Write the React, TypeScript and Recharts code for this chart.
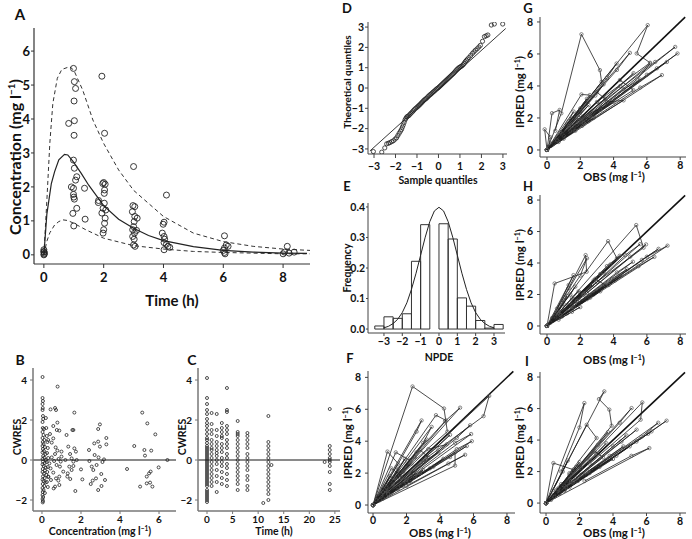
import React from "react"
import { ComposedChart, Scatter, XAxis, YAxis, ReferenceLine, ReferenceArea } from "recharts"

const FONT = "Lato, 'Open Sans', 'DejaVu Sans', sans-serif"

// ---------- A: observed concentration vs time, median and 90% band ----------
const aObs = [
  [0, 0.15], [0, 0.1], [0.02, 0.05], [0, 0], [0.01, 0.02], [0, 0.08],
  [0.83, 3.87], [0.99, 5.49], [1.02, 5.1], [1.06, 4.9], [1.01, 4.53], [1.02, 3.95], [1.01, 3.52],
  [0.99, 2.79], [1.02, 2.55], [1.1, 2.3], [1.06, 2.2], [0.92, 2.0], [0.99, 1.96], [0.99, 1.78],
  [1.0, 1.7], [1.02, 1.64], [1.1, 1.37], [0.97, 1.22], [1.36, 1.96], [1.38, 1.05], [1.0, 0.85],
  [1.94, 5.26], [2.03, 3.58], [2.0, 2.13], [2.05, 2.08], [1.97, 2.1], [2.03, 1.91], [2.02, 1.81],
  [1.83, 1.6], [1.82, 1.54], [2.02, 1.52], [1.98, 1.37], [2.07, 1.32], [1.94, 1.23], [2.05, 1.08],
  [2.03, 0.93], [2.0, 0.74], [1.98, 0.64],
  [3.0, 2.6], [2.98, 1.45], [3.04, 1.42], [2.96, 1.27], [3.04, 1.13], [3.12, 1.08], [3.02, 0.98],
  [3.0, 0.83], [2.97, 0.74], [3.03, 0.64], [3.1, 0.72], [2.97, 0.54], [3.02, 0.46], [3.0, 0.29], [3.05, 0.25],
  [4.1, 1.76], [4.02, 0.96], [3.99, 0.9], [3.96, 0.64], [4.02, 0.54], [4.04, 0.46], [4.02, 0.36],
  [4.1, 0.31], [4.15, 0.25], [4.02, 0.15], [4.21, 0.22],
  [6.04, 0.56], [6.1, 0.29], [6.16, 0.25], [6.04, 0.2], [6.0, 0.13], [6.04, 0.07], [6.06, 0.03],
  [8.14, 0.25], [8.05, 0.08], [8.0, 0.03], [8.2, 0.05], [8.37, 0.08],
]
const medTime = [0, 0.1, 0.25, 0.36, 0.5, 0.69, 0.8, 1, 1.25, 1.5, 2, 2.5, 3, 3.5, 4, 5, 6, 7, 8, 8.8]
const medConc = [0, 1.2, 2.1, 2.45, 2.8, 2.96, 2.94, 2.72, 2.4, 2.05, 1.45, 1.05, 0.78, 0.57, 0.42, 0.24, 0.13, 0.08, 0.05, 0.04]
const hiTime = [0, 0.1, 0.2, 0.3, 0.45, 0.6, 0.86, 1, 1.3, 1.64, 2, 2.5, 3, 4, 5, 6, 7, 8, 8.9]
const hiConc = [0, 1.6, 3.3, 4.46, 5.2, 5.46, 5.54, 5.44, 4.85, 3.97, 3.28, 2.5, 1.9, 1.13, 0.64, 0.39, 0.25, 0.17, 0.13]
const loTime = [0, 0.1, 0.2, 0.36, 0.5, 0.64, 0.8, 1, 1.4, 2, 3, 4, 5, 6, 8, 8.9]
const loConc = [0, 0.4, 0.65, 0.88, 0.98, 1.03, 1.01, 0.93, 0.74, 0.49, 0.27, 0.17, 0.1, 0.07, 0.03, 0.03]

// ---------- B: CWRES vs concentration ----------
const bPoints = [
  [0.03, 4.15], [0.03, 3.1], [0.05, 2.95], [0.03, 2.8], [0.04, 2.6], [0.03, 2.5], [0.05, 2.2], [0.06, 2.05],
  [0.03, 1.9], [0.04, 1.6], [0.1, 1.55], [0.03, 1.4], [0.08, 1.25], [0.03, 1.1], [0.12, 1.0], [0.04, 0.9],
  [0.08, 0.8], [0.03, 0.7], [0.15, 0.65], [0.05, 0.55], [0.1, 0.45], [0.03, 0.38], [0.18, 0.3], [0.06, 0.2],
  [0.12, 0.12], [0.03, 0.05], [0.2, 0.0], [0.05, -0.08], [0.14, -0.15], [0.03, -0.22], [0.09, -0.3],
  [0.2, -0.38], [0.04, -0.45], [0.15, -0.52], [0.03, -0.6], [0.1, -0.68], [0.22, -0.75], [0.05, -0.82],
  [0.14, -0.9], [0.03, -0.98], [0.08, -1.05], [0.18, -1.12], [0.04, -1.2], [0.12, -1.3], [0.03, -1.4],
  [0.08, -1.5], [0.04, -1.6], [0.15, -1.65], [0.03, -1.75], [0.06, -1.85], [0.03, -1.95], [0.05, -2.05], [0.04, -2.12],
  [0.25, 1.2], [0.28, 0.9], [0.3, 0.6], [0.26, 0.35], [0.32, 0.1], [0.24, -0.1], [0.3, -0.35], [0.27, -0.6],
  [0.33, -0.85], [0.25, -1.1], [0.3, -1.35], [0.22, 1.6], [0.2, 2.1],
  [0.8, 3.67], [0.44, 2.53], [0.67, 2.6], [0.72, 2.5], [0.58, 1.7], [0.79, 1.87], [0.89, 1.47], [0.76, 1.5],
  [0.41, 1.3], [0.32, 1.0], [0.5, 0.87], [0.58, 1.08], [0.7, 0.63], [0.79, 0.47], [0.67, 0.3], [0.5, 0.13],
  [0.38, -0.17], [0.44, -0.42], [0.58, -0.63], [0.32, -0.83], [0.46, -1.0], [0.72, -0.92], [0.89, -1.25],
  [0.67, -1.33], [0.6, -1.42], [1.0, 0.42], [1.0, 0.17], [0.96, -0.08], [0.92, -0.33], [1.09, -0.58],
  [0.89, -0.83], [0.84, -1.03], [0.85, 0.05], [0.62, -0.05], [0.75, -0.25],
  [1.66, 2.37], [1.56, 1.5], [1.61, 1.5], [1.26, 1.25], [1.35, 0.67], [1.44, 0.3], [1.66, 0.58], [1.74, 0.42],
  [1.52, 0.08], [1.61, -0.08], [1.4, -0.33], [1.52, -0.5], [1.61, -0.3], [1.32, -0.67], [1.3, -0.83],
  [2.0, -0.47], [1.78, 0.0], [1.71, -1.55], [1.2, 0.0], [1.45, -0.95],
  [2.97, 1.78], [2.88, 1.55], [3.3, 1.1], [3.3, 0.78], [2.68, 0.83], [2.88, 0.92], [2.97, 0.67], [2.41, 0.5],
  [2.7, 0.25], [2.9, 0.13], [3.18, 0.03], [2.43, -0.05], [2.07, -0.97], [2.5, -1.2], [2.6, -1.03], [2.77, -0.92],
  [2.88, -1.5], [3.05, -1.3], [3.23, -1.0], [3.04, -0.7], [2.63, -0.5], [2.55, -0.33], [2.8, -0.25], [3.1, -0.1],
  [4.36, -0.45], [4.73, 0.7], [5.14, 2.37], [5.4, 1.83], [5.81, 1.28], [5.25, 0.5], [5.28, 0.22], [5.6, 0.47],
  [6.43, 0.0], [5.98, -0.37], [5.57, -0.58], [5.49, -0.67], [5.37, -0.83], [5.37, -1.17], [5.54, -1.13],
  [5.66, -1.33], [5.03, -1.33],
]

// ---------- C: CWRES vs time (columns by sampling time) ----------
const cTimes = [0, 0.9, 1.9, 2.9, 3.9, 6, 7.9, 11, 12, 12.6, 23, 24]
const cCwres = [
  [4.1, 3.1, 2.8, 2.5, 2.3, 2.05, 1.85, 1.7, 1.5, 1.3, 1.1, 1.0, 0.85, 0.7, 0.6, 0.5, 0.4, 0.3, 0.2, 0.1, 0.0, -0.1,
    -0.2, -0.3, -0.4, -0.5, -0.6, -0.7, -0.8, -0.9, -1.0, -1.1, -1.2, -1.3, -1.5, -1.6, -1.7, -1.8, -1.9, -2.0, -2.1],
  [2.35, 1.8, 1.5, 1.3, 1.0, 0.8, 0.6, 0.5, 0.3, 0.1, -0.1, -0.3, -0.5, -0.7, -0.9, -1.1, -1.3],
  [2.3, 1.5, 1.2, 0.9, 0.7, 0.5, 0.35, 0.2, 0.0, -0.2, -0.5, -0.8, -1.1, -1.6],
  [1.85, 1.6, 1.4, 1.2, 1.1, 0.8, 0.6, 0.4, 0.1, -0.1, -0.3, -0.6, -0.9, -1.2],
  [3.6, 2.5, 2.4, 1.7, 1.5, 1.3, 1.0, 0.8, 0.6, 0.3, 0.1, -0.2, -0.4, -0.7, -1.0, -1.3],
  [1.95, 1.4, 1.3, 1.2, 1.0, 0.8, 0.6, 0.4, 0.2, 0.0, -0.2, -0.4, -0.6, -0.8, -1.0, -1.2, -1.5],
  [1.35, 1.2, 1.0, 0.8, 0.6, 0.3, 0.1, -0.1, -0.3, -0.5, -0.8, -1.0, -1.3, -1.5],
  [-2.15],
  [2.2, 0.9, 0.7, 0.5, 0.3, 0.1, -0.1, -0.3, -0.5, -0.7, -0.9, -1.1, -1.3, -1.5, -1.7, -2.0],
  [-0.25],
  [-0.1],
  [2.55, 0.7, 0.5, 0.3, 0.1, 0.0, -0.1, -0.3, -0.6, -1.2, -1.5],
]

// ---------- D: QQ plot ----------
const qqPoints = [
  [-3.03, -3.13], [-2.64, -3.16], [-2.5, -2.95], [-2.41, -2.75], [-2.33, -2.72], [-2.26, -2.69], [-2.18, -2.64],
  [-2.1, -2.6], [-2.02, -2.52], [-1.95, -2.45], [-1.89, -2.34], [-1.83, -2.23], [-1.77, -2.13], [-1.72, -2.04],
  [-1.68, -1.93], [-1.64, -1.82], [-1.6, -1.7], [-1.56, -1.58], [-1.52, -1.5], [-1.48, -1.43],
  [-1.44, -1.4], [-1.38, -1.36], [-1.33, -1.3], [-1.28, -1.24], [-1.22, -1.18], [-1.17, -1.12], [-1.12, -1.06],
  [-1.06, -1.0], [-1.0, -0.95], [-0.95, -0.9], [-0.9, -0.85], [-0.85, -0.8], [-0.8, -0.74], [-0.75, -0.69],
  [-0.7, -0.63], [-0.65, -0.58], [-0.6, -0.54], [-0.55, -0.5], [-0.5, -0.44], [-0.45, -0.39], [-0.4, -0.34],
  [-0.35, -0.3], [-0.3, -0.25], [-0.25, -0.2], [-0.2, -0.16], [-0.15, -0.11], [-0.1, -0.06], [-0.05, -0.02],
  [0, 0.02], [0.05, 0.07], [0.1, 0.12], [0.15, 0.17], [0.2, 0.22], [0.25, 0.27], [0.3, 0.32], [0.35, 0.37],
  [0.4, 0.42], [0.45, 0.47], [0.5, 0.52], [0.55, 0.57], [0.6, 0.62], [0.65, 0.67], [0.7, 0.72], [0.75, 0.78],
  [0.8, 0.84], [0.85, 0.9], [0.9, 0.95], [0.95, 1.0], [1.0, 1.03], [1.05, 1.06], [1.1, 1.1], [1.15, 1.15],
  [1.2, 1.22], [1.25, 1.3], [1.3, 1.36], [1.35, 1.42], [1.42, 1.5], [1.5, 1.6], [1.58, 1.7], [1.65, 1.78],
  [1.72, 1.86], [1.8, 1.93], [1.88, 2.02], [1.95, 2.1], [2.05, 2.3], [2.14, 2.53], [2.22, 2.57], [2.3, 2.61],
  [2.46, 3.1], [2.6, 3.15], [2.99, 3.15],
]
const qqLine = [[-3.19, -3.1], [3.13, 2.93]]

// ---------- E: NPDE histogram ----------
const binStart = [-3.5, -3, -2.5, -2, -1.5, -1, -0.5, 0, 0.5, 1, 1.5, 2, 2.5, 3]
const binFreq = [0.01, 0.04, 0.035, 0.05, 0.222, 0.342, 0.42, 0.345, 0.295, 0.102, 0.075, 0.028, 0.003, 0.015]
const curveX = [-3, -2.75, -2.5, -2.25, -2, -1.75, -1.5, -1.25, -1, -0.75, -0.5, -0.25, 0, 0.25, 0.5, 0.75, 1, 1.25, 1.5, 1.75, 2, 2.25, 2.5, 2.75, 3]
const curveY = [0.004, 0.009, 0.018, 0.032, 0.054, 0.086, 0.13, 0.183, 0.242, 0.301, 0.352, 0.387, 0.399, 0.387, 0.352, 0.301, 0.242, 0.183, 0.13, 0.086, 0.054, 0.032, 0.018, 0.009, 0.004]

// ---------- F-I: IPRED vs OBS per subject ----------
const fSubjects = [
  [[0, 0], [2.36, 7.43], [4.24, 6.05], [4.44, 4.6], [1.6, 2.0], [0.3, 0.4]],
  [[0, 0], [5.2, 6.1], [4.3, 5.25], [2.0, 2.6], [0.4, 0.5]],
  [[0, 0], [3.76, 5.63], [4.36, 5.3], [2.5, 3.0], [0.5, 0.6]],
  [[0, 0], [2.9, 5.3], [2.6, 4.6], [1.4, 2.4], [0.3, 0.5]],
  [[0, 0], [0.86, 3.35], [1.5, 2.6], [0.6, 1.0]],
  [[0, 0], [1.36, 3.3], [2.2, 2.8], [0.8, 1.1]],
  [[0, 0], [6.94, 6.84], [6.6, 5.57], [3.0, 2.8], [0.6, 0.5]],
  [[0, 0], [5.8, 5.0], [5.0, 4.2], [2.4, 2.0], [0.5, 0.4]],
  [[0, 0], [5.86, 4.45], [4.9, 3.9], [2.0, 1.6]],
  [[0, 0], [5.9, 4.0], [5.0, 3.5], [2.2, 1.5]],
  [[0, 0], [5.6, 3.7], [4.6, 3.0], [1.8, 1.2]],
  [[0, 0], [5.5, 3.15], [4.5, 2.6], [2.0, 1.2]],
  [[0, 0], [4.9, 2.47], [4.9, 3.3], [2.2, 1.5]],
  [[0, 0], [3.2, 4.1], [2.6, 3.3], [1.2, 1.5]],
  [[0, 0], [2.8, 3.46], [3.3, 3.0], [1.5, 1.4]],
  [[0, 0], [4.6, 4.4], [3.8, 3.6], [1.6, 1.7]],
  [[0, 0], [3.9, 3.3], [3.0, 2.7], [1.3, 1.1]],
  [[0, 0], [4.2, 2.9], [3.4, 2.3], [1.5, 1.0]],
  [[0, 0], [3.6, 2.4], [2.8, 2.0], [1.1, 0.8]],
  [[0, 0], [2.3, 2.6], [1.8, 2.1], [0.8, 0.9]],
  [[0, 0], [1.9, 2.9], [1.4, 2.0], [0.6, 0.8]],
  [[0, 0], [3.0, 2.2], [2.3, 1.6], [1.0, 0.7]],
  [[0, 0], [1.7, 1.7], [1.2, 1.3], [0.5, 0.5]],
  [[0, 0], [2.5, 1.8], [1.8, 1.3], [0.7, 0.5]],
  [[0, 0], [1.0, 1.8], [0.7, 1.2], [0.3, 0.5]],
  [[0, 0], [1.3, 1.0], [0.9, 0.8], [0.4, 0.3]],
  [[0, 0], [4.4, 3.8], [3.3, 3.5], [1.4, 1.6]],
  [[0, 0], [1.1, 2.3], [1.6, 1.9], [0.7, 0.9]],
  [[0, 0], [3.5, 4.9], [3.0, 3.9], [1.3, 1.7]],
  [[0, 0], [2.0, 1.4], [1.5, 1.1], [0.6, 0.4]],
  [[0, 0], [1.5, 2.2], [1.2, 1.7], [0.5, 0.7]],
  [[0, 0], [0.8, 1.1], [0.6, 0.8], [0.2, 0.3]],
  [[0, 0], [2.6, 2.0], [2.0, 1.6], [0.9, 0.7]],
]
const gSubjects = [
  [[0, 0], [-0.14, 1.29], [0.2, 0.8], [0.1, 0.2]],
  [[0, 0], [0.86, 2.29], [2.07, 7.23], [3.18, 4.99], [3.28, 4.26], [1.5, 1.9], [0.3, 0.4]],
  [[0, 0], [6.05, 7.8], [5.39, 6.03], [6.19, 5.45], [3.0, 3.0], [0.6, 0.6]],
  [[0, 0], [4.98, 6.07], [4.2, 5.0], [2.0, 2.4]],
  [[0, 0], [7.7, 6.44], [6.5, 5.5], [3.2, 2.9], [0.6, 0.5]],
  [[0, 0], [7.84, 6.03], [6.6, 5.1], [3.0, 2.4]],
  [[0, 0], [7.2, 5.5], [6.0, 4.7], [2.8, 2.2]],
  [[0, 0], [6.9, 4.68], [5.6, 3.9], [2.5, 1.8]],
  [[0, 0], [4.18, 5.4], [3.6, 4.5], [1.6, 2.0]],
  [[0, 0], [2.07, 3.47], [2.57, 3.43], [1.2, 1.6]],
  [[0, 0], [4.38, 4.37], [5.19, 3.74], [2.4, 1.9]],
  [[0, 0], [0.3, 2.3], [0.76, 2.5], [0.5, 1.2]],
  [[0, 0], [3.0, 3.6], [3.5, 3.2], [1.5, 1.5]],
  [[0, 0], [5.6, 4.4], [4.6, 3.8], [2.0, 1.7]],
  [[0, 0], [3.2, 2.6], [2.6, 2.3], [1.2, 1.0]],
  [[0, 0], [2.5, 2.8], [2.0, 2.2], [0.9, 1.0]],
  [[0, 0], [1.6, 2.4], [1.3, 1.8], [0.6, 0.8]],
  [[0, 0], [4.0, 3.0], [3.2, 2.5], [1.4, 1.1]],
  [[0, 0], [1.8, 1.6], [1.4, 1.3], [0.6, 0.6]],
  [[0, 0], [2.8, 2.0], [2.2, 1.6], [1.0, 0.7]],
  [[0, 0], [1.2, 1.5], [0.9, 1.0], [0.4, 0.4]],
  [[0, 0], [3.6, 3.0], [4.6, 3.1], [2.1, 1.5]],
  [[0, 0], [1.0, 0.8], [0.7, 0.6], [0.3, 0.3]],
  [[0, 0], [2.2, 1.7], [1.7, 1.2], [0.7, 0.5]],
  [[0, 0], [5.2, 4.8], [4.4, 4.0], [1.9, 1.8]],
  [[0, 0], [3.4, 4.1], [2.9, 3.4], [1.3, 1.5]],
  [[0, 0], [1.4, 1.2], [1.0, 0.9], [0.4, 0.4]],
  [[0, 0], [6.2, 5.4], [5.4, 4.4], [2.6, 2.1]],
  [[0, 0], [1.9, 2.0], [1.5, 1.5], [0.6, 0.6]],
  [[0, 0], [2.4, 3.2], [2.0, 2.6], [0.8, 1.1]],
]
const hSubjects = [
  [[0, 0], [0.46, 2.7], [2.38, 3.44], [2.32, 4.5], [1.3, 2.4], [0.3, 0.5]],
  [[0, 0], [5.36, 6.41], [5.8, 4.97], [3.0, 2.8], [0.6, 0.5]],
  [[0, 0], [3.67, 5.39], [4.2, 4.3], [2.0, 2.1]],
  [[0, 0], [7.24, 5.1], [6.0, 4.4], [2.8, 2.0]],
  [[0, 0], [6.45, 4.39], [5.5, 3.8], [2.5, 1.8]],
  [[0, 0], [5.95, 5.18], [5.0, 4.4], [2.4, 2.1]],
  [[0, 0], [4.37, 4.46], [3.6, 3.8], [1.6, 1.7]],
  [[0, 0], [1.59, 3.23], [1.3, 2.6], [0.6, 1.1]],
  [[0, 0], [5.16, 4.08], [4.2, 3.4], [2.0, 1.6]],
  [[0, 0], [2.4, 4.3], [2.0, 3.2], [0.9, 1.5]],
  [[0, 0], [4.8, 3.6], [3.9, 3.0], [1.8, 1.4]],
  [[0, 0], [3.4, 3.4], [2.8, 2.9], [1.3, 1.3]],
  [[0, 0], [4.1, 2.9], [3.3, 2.4], [1.5, 1.1]],
  [[0, 0], [2.7, 2.6], [2.2, 2.1], [1.0, 1.0]],
  [[0, 0], [3.2, 2.2], [2.6, 1.8], [1.2, 0.8]],
  [[0, 0], [1.9, 2.2], [1.5, 1.8], [0.7, 0.8]],
  [[0, 0], [2.4, 1.7], [1.9, 1.4], [0.9, 0.6]],
  [[0, 0], [1.2, 1.9], [1.0, 1.4], [0.4, 0.6]],
  [[0, 0], [1.5, 1.3], [1.1, 1.0], [0.5, 0.5]],
  [[0, 0], [0.9, 1.3], [0.7, 0.9], [0.3, 0.4]],
  [[0, 0], [5.6, 5.2], [4.7, 4.5], [2.2, 2.0]],
  [[0, 0], [2.0, 1.2], [1.5, 0.9], [0.7, 0.4]],
  [[0, 0], [3.8, 3.9], [3.2, 3.3], [1.4, 1.5]],
  [[0, 0], [6.7, 4.9], [5.7, 4.2], [2.6, 1.9]],
  [[0, 0], [2.9, 3.0], [3.5, 2.6], [1.5, 1.2]],
  [[0, 0], [0.7, 0.8], [0.5, 0.6], [0.2, 0.2]],
  [[0, 0], [4.5, 3.2], [3.7, 2.6], [1.6, 1.2]],
  [[0, 0], [1.7, 2.5], [1.4, 2.0], [0.6, 0.9]],
  [[0, 0], [2.2, 2.0], [1.8, 1.6], [0.8, 0.7]],
]
const iSubjects = [
  [[0, 0], [0.44, 2.54], [1.63, 2.12], [0.8, 1.0], [0.2, 0.3]],
  [[0, 0], [2.29, 6.35], [2.0, 4.8], [0.9, 2.0]],
  [[0, 0], [3.48, 7.09], [3.16, 6.6], [3.78, 5.93], [3.92, 4.91], [2.0, 2.4], [0.4, 0.5]],
  [[0, 0], [5.11, 6.03], [4.4, 5.1], [2.0, 2.3]],
  [[0, 0], [5.75, 6.39], [5.65, 5.29], [2.6, 2.5]],
  [[0, 0], [7.2, 5.23], [6.1, 4.4], [2.8, 2.1]],
  [[0, 0], [6.3, 4.55], [5.4, 3.9], [2.4, 1.8]],
  [[0, 0], [6.17, 3.49], [5.1, 3.0], [2.3, 1.4]],
  [[0, 0], [2.43, 4.97], [3.02, 4.13], [1.4, 1.9]],
  [[0, 0], [4.62, 3.6], [3.8, 3.0], [1.7, 1.4]],
  [[0, 0], [5.41, 4.66], [4.5, 3.9], [2.0, 1.8]],
  [[0, 0], [3.6, 3.8], [3.0, 3.1], [1.3, 1.4]],
  [[0, 0], [4.0, 2.8], [3.2, 2.3], [1.4, 1.0]],
  [[0, 0], [2.6, 2.7], [2.1, 2.2], [0.9, 1.0]],
  [[0, 0], [3.2, 2.4], [2.6, 1.9], [1.1, 0.8]],
  [[0, 0], [1.8, 2.3], [1.4, 1.8], [0.6, 0.8]],
  [[0, 0], [2.3, 1.8], [1.8, 1.4], [0.8, 0.6]],
  [[0, 0], [1.3, 2.7], [1.0, 2.0], [0.4, 0.8]],
  [[0, 0], [1.5, 1.4], [1.1, 1.1], [0.5, 0.5]],
  [[0, 0], [4.8, 4.3], [4.0, 3.6], [1.8, 1.6]],
  [[0, 0], [0.9, 1.2], [0.7, 0.8], [0.3, 0.3]],
  [[0, 0], [2.9, 3.3], [3.4, 2.9], [1.5, 1.3]],
  [[0, 0], [5.0, 3.6], [4.2, 3.0], [1.9, 1.4]],
  [[0, 0], [1.1, 0.8], [0.8, 0.6], [0.3, 0.2]],
  [[0, 0], [3.7, 4.5], [3.1, 3.7], [1.4, 1.7]],
  [[0, 0], [6.7, 5.1], [5.7, 4.2], [2.5, 2.0]],
  [[0, 0], [2.0, 2.6], [1.6, 2.0], [0.7, 0.9]],
  [[0, 0], [1.6, 1.3], [1.2, 1.0], [0.5, 0.4]],
]

const obsTicks = [0, 2, 4, 6, 8]

// ---------- helpers ----------
const pairs = (p: number[][]) => p.map(([x, y]) => ({ x, y }))
const zip = (xs: number[], ys: number[]) => xs.map((x, i) => ({ x, y: ys[i] }))
const cPoints = cTimes.flatMap((t, i) => cCwres[i].map((y) => ({ x: t, y })))
const minus = (v: number) => String(v).replace("-", "\u2212")

const ring = (r: number, w: number, color: string) => (p: any) => (
  <circle cx={p.cx} cy={p.cy} r={r} fill="none" stroke={color} strokeWidth={w} />
)
const noDot = () => <g />

const YW = 40
const PT = 6
const PR = 6
const XH = 30

function Panel(props: any) {
  const { box, xDomain, yDomain, xTicks, yTicks, size = 10.5, color = "#444", lw = 1, xGap, yGap, yFmt = minus, children } = props
  const [x0, y0, x1, y1] = box
  const w = x1 - x0 + YW + PR
  const h = y1 - y0 + PT + XH
  const tick = { fontSize: size, fontWeight: 700, fill: "#111", fontFamily: FONT }
  return (
    <div style={{ position: "absolute", left: x0 - YW, top: y0 - PT, width: w, height: h }}>
      <ComposedChart width={w} height={h} margin={{ top: PT, right: PR, bottom: 0, left: 0 }}>
        <XAxis
          type="number" dataKey="x" domain={xDomain} ticks={xTicks} allowDataOverflow interval={0} height={XH}
          axisLine={{ stroke: color, strokeWidth: lw }} tickLine={{ stroke: color }}
          tickSize={xGap[0]} tickMargin={xGap[1]} tick={tick} tickFormatter={minus}
        />
        <YAxis
          type="number" dataKey="y" domain={yDomain} ticks={yTicks} allowDataOverflow interval={0} width={YW}
          axisLine={{ stroke: color, strokeWidth: lw }} tickLine={{ stroke: color }}
          tickSize={yGap[0]} tickMargin={yGap[1]} tick={tick} tickFormatter={yFmt}
        />
        {children}
      </ComposedChart>
    </div>
  )
}

function Txt({ x, y, size, rot = false, children }: any) {
  return (
    <div
      style={{
        position: "absolute", left: x, top: y, whiteSpace: "nowrap", lineHeight: 1,
        transform: `translate(-50%, -50%)${rot ? " rotate(-90deg)" : ""}`,
        fontFamily: FONT, fontWeight: 700, fontSize: size, color: "#111",
      }}
    >
      {children}
    </div>
  )
}

const Unit = () => (
  <>
    (mg l<span style={{ fontSize: "0.62em", position: "relative", top: "-0.6em" }}>{"\u2212"}1</span>)
  </>
)

function Spaghetti({ subjects }: { subjects: number[][][] }) {
  return (
    <>
      {subjects.map((s, i) => (
        <Scatter
          key={i} data={pairs(s)} fill="none" isAnimationActive={false}
          line={{ stroke: "#1e1e1e", strokeWidth: 0.8 }} shape={ring(1.7, 0.7, "#555")}
        />
      ))}
    </>
  )
}

export default function App() {
  return (
    <div style={{ position: "absolute", left: 0, top: 0, width: 692, height: 539, background: "#fff", overflow: "hidden" }}>
      {/* A */}
      <Panel box={[34, 28, 310, 264]} xDomain={[-0.33, 8.9]} yDomain={[-0.27, 6.68]} xTicks={obsTicks}
        yTicks={[0, 1, 2, 3, 4, 5, 6]} size={13} color="#333" lw={1.2} xGap={[4, 5]} yGap={[3, 1]}>
        <Scatter data={zip(hiTime, hiConc)} fill="none" isAnimationActive={false} shape={noDot}
          line={{ stroke: "#333", strokeWidth: 1, strokeDasharray: "4 3" }} />
        <Scatter data={zip(loTime, loConc)} fill="none" isAnimationActive={false} shape={noDot}
          line={{ stroke: "#333", strokeWidth: 1, strokeDasharray: "4 3" }} />
        <Scatter data={zip(medTime, medConc)} fill="none" isAnimationActive={false} shape={noDot}
          line={{ stroke: "#222", strokeWidth: 1.2 }} />
        <Scatter data={pairs(aObs)} fill="none" isAnimationActive={false} shape={ring(3, 0.9, "#222")} />
      </Panel>

      {/* B */}
      <Panel box={[33, 368, 176, 511]} xDomain={[-0.46, 6.87]} yDomain={[-2.55, 4.6]} xTicks={[0, 2, 4, 6]}
        yTicks={[-2, 0, 2, 4]} size={10} color="#777" lw={1.5} xGap={[3, 2]} yGap={[3, 3]}>
        <ReferenceLine y={0} stroke="#8a8a8a" strokeWidth={2} />
        <Scatter data={pairs(bPoints)} fill="none" isAnimationActive={false} shape={ring(1.5, 0.8, "#222")} />
      </Panel>

      {/* C */}
      <Panel box={[198, 368, 340, 511]} xDomain={[-1.76, 26]} yDomain={[-2.55, 4.6]} xTicks={[0, 5, 10, 15, 20, 25]}
        yTicks={[-2, 0, 2, 4]} size={10} color="#777" lw={1.5} xGap={[3, 2]} yGap={[3, 3]}>
        <ReferenceLine y={0} stroke="#8a8a8a" strokeWidth={2} />
        <Scatter data={cPoints} fill="none" isAnimationActive={false} shape={ring(1.5, 0.8, "#222")} />
      </Panel>

      {/* D */}
      <Panel box={[368, 22, 507, 154]} xDomain={[-3.28, 3.19]} yDomain={[-3.25, 3.25]} xTicks={[-3, -2, -1, 0, 1, 2, 3]}
        yTicks={[-3, -2, -1, 0, 1, 2, 3]} xGap={[4, 5]} yGap={[3, 1]}>
        <Scatter data={pairs(qqLine)} fill="none" isAnimationActive={false} shape={noDot}
          line={{ stroke: "#222", strokeWidth: 0.9 }} />
        <Scatter data={pairs(qqPoints)} fill="none" isAnimationActive={false} shape={ring(2.1, 0.8, "#222")} />
      </Panel>

      {/* E */}
      <Panel box={[368, 203, 505, 333]} xDomain={[-3.87, 3.6]} yDomain={[-0.013, 0.413]} xTicks={[-3, -2, -1, 0, 1, 2, 3]}
        yTicks={[0, 0.1, 0.2, 0.3, 0.4]} xGap={[3, 2]} yGap={[2, 1]} yFmt={(v: number) => v.toFixed(1)}>
        {binStart.map((s, i) => (
          <ReferenceArea key={i} x1={s} x2={s + 0.5} y1={0} y2={binFreq[i]} fill="none" stroke="#333" strokeWidth={1} />
        ))}
        <Scatter data={zip(curveX, curveY)} fill="none" isAnimationActive={false} shape={noDot}
          line={{ stroke: "#222", strokeWidth: 1 }} />
      </Panel>

      {/* F */}
      <Panel box={[368, 371, 515, 513]} xDomain={[-0.3, 8.48]} yDomain={[-0.5, 8.4]} xTicks={obsTicks}
        yTicks={obsTicks} xGap={[3, 1]} yGap={[3, 4]}>
        <Spaghetti subjects={fSubjects} />
        <ReferenceLine segment={[{ x: 0, y: 0 }, { x: 8.38, y: 8.38 }]} stroke="#111" strokeWidth={1.6} />
      </Panel>

      {/* G */}
      <Panel box={[540, 17, 686, 157]} xDomain={[-0.42, 8.35]} yDomain={[-0.44, 8.31]} xTicks={obsTicks}
        yTicks={obsTicks} xGap={[3, 2]} yGap={[3, 4]}>
        <Spaghetti subjects={gSubjects} />
        <ReferenceLine segment={[{ x: 0, y: 0 }, { x: 8.3, y: 8.3 }]} stroke="#111" strokeWidth={1.6} />
      </Panel>

      {/* H */}
      <Panel box={[540, 195, 686, 334]} xDomain={[-0.42, 8.35]} yDomain={[-0.51, 8.32]} xTicks={obsTicks}
        yTicks={obsTicks} xGap={[3, 1]} yGap={[3, 4]}>
        <Spaghetti subjects={hSubjects} />
        <ReferenceLine segment={[{ x: 0, y: 0 }, { x: 8.3, y: 8.3 }]} stroke="#111" strokeWidth={1.6} />
      </Panel>

      {/* I */}
      <Panel box={[540, 372, 686, 513]} xDomain={[-0.36, 8.36]} yDomain={[-0.63, 8.32]} xTicks={obsTicks}
        yTicks={obsTicks} xGap={[3, 2]} yGap={[3, 4]}>
        <Spaghetti subjects={iSubjects} />
        <ReferenceLine segment={[{ x: 0, y: 0 }, { x: 8.3, y: 8.3 }]} stroke="#111" strokeWidth={1.6} />
      </Panel>

      {/* titles and panel letters */}
      <Txt x={20} y={14} size={15}>A</Txt>
      <Txt x={15} y={157} size={16} rot>Concentration <Unit /></Txt>
      <Txt x={172} y={300} size={15}>Time (h)</Txt>

      <Txt x={20} y={360} size={14}>B</Txt>
      <Txt x={17} y={437} size={10.5} rot>CWRES</Txt>
      <Txt x={100} y={531} size={10.5}>Concentration <Unit /></Txt>

      <Txt x={192} y={360} size={14}>C</Txt>
      <Txt x={182} y={437} size={10.5} rot>CWRES</Txt>
      <Txt x={274} y={531} size={10.5}>Time (h)</Txt>

      <Txt x={347} y={8} size={13}>D</Txt>
      <Txt x={347} y={82} size={10} rot>Theoretical quantiles</Txt>
      <Txt x={438} y={180} size={10.5}>Sample quantiles</Txt>

      <Txt x={347} y={186} size={13}>E</Txt>
      <Txt x={347} y={268} size={10.5} rot>Frequency</Txt>
      <Txt x={439} y={357} size={10.5}>NPDE</Txt>

      <Txt x={350} y={358} size={13}>F</Txt>
      <Txt x={348} y={443} size={11.5} rot>IPRED <Unit /></Txt>
      <Txt x={440} y={533} size={11.5}>OBS <Unit /></Txt>

      <Txt x={528} y={8} size={13}>G</Txt>
      <Txt x={520} y={92} size={11.5} rot>IPRED <Unit /></Txt>
      <Txt x={614} y={177} size={11.5}>OBS <Unit /></Txt>

      <Txt x={528} y={186} size={13}>H</Txt>
      <Txt x={520} y={265} size={11.5} rot>IPRED <Unit /></Txt>
      <Txt x={614} y={360} size={11.5}>OBS <Unit /></Txt>

      <Txt x={527} y={361} size={13}>I</Txt>
      <Txt x={520} y={443} size={11.5} rot>IPRED <Unit /></Txt>
      <Txt x={614} y={533} size={11.5}>OBS <Unit /></Txt>
    </div>
  )
}
